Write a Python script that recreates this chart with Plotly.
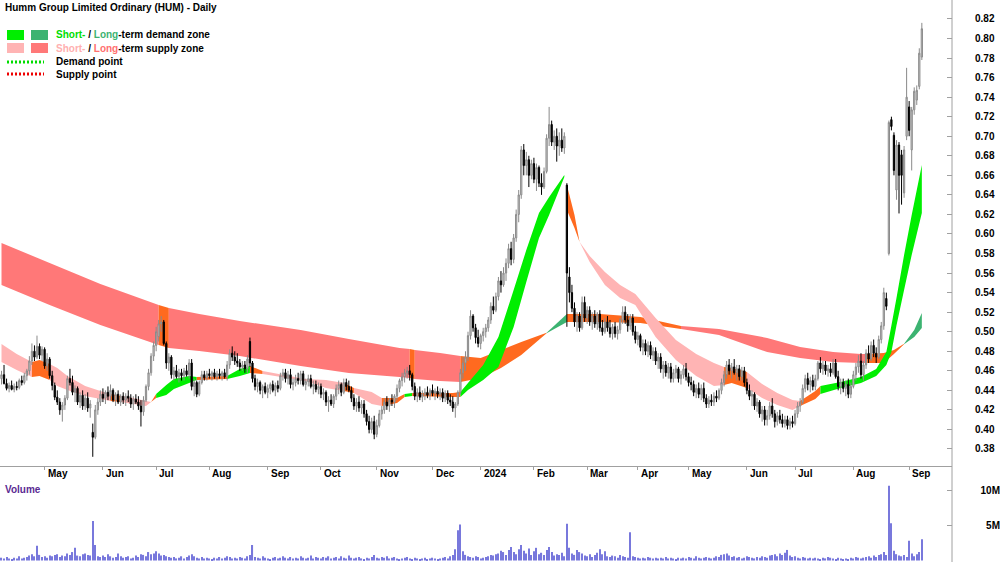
import plotly.graph_objects as go

TITLE = "Humm Group Limited Ordinary (HUM) - Daily"

# trading-day index of the first session of each month, and its label
MONTH_IDX = [17, 40, 61, 82, 105, 126, 148, 170, 189, 210, 231, 251, 271, 294, 313, 336, 358]
MONTH_TXT = ["May", "Jun", "Jul", "Aug", "Sep", "Oct", "Nov", "Dec", "2024",
             "Feb", "Mar", "Apr", "May", "Jun", "Jul", "Aug", "Sep"]

OPEN = [
 .452,.456,.447,.442,.445,.441,.444,.443,.450,.448,
 .455,.460,.470,.480,.474,.485,.476,.482,.465,.472,
 .455,.445,.433,.428,.420,.425,.432,.452,.448,.438,
 .442,.428,.435,.424,.432,.422,.397,.392,.420,.428,
 .436,.432,.438,.434,.440,.430,.436,.428,.434,.430,
 .434,.432,.426,.431,.428,.424,.418,.430,.444,.458,
 .475,.486,.495,.508,.510,.488,.468,.474,.456,.460,
 .454,.458,.455,.460,.456,.468,.444,.448,.436,.448,
 .456,.453,.457,.455,.458,.454,.457,.455,.458,.454,
 .466,.478,.474,.470,.468,.464,.466,.462,.490,.468,
 .452,.444,.448,.440,.444,.438,.442,.446,.440,.445,
 .442,.455,.458,.452,.456,.446,.448,.452,.450,.457,
 .446,.449,.452,.444,.446,.441,.444,.436,.438,.428,
 .430,.426,.434,.442,.446,.438,.448,.444,.440,.432,
 .424,.428,.422,.426,.416,.408,.400,.408,.395,.404,
 .416,.420,.428,.424,.430,.428,.434,.442,.450,.454,
 .458,.460,.456,.444,.434,.438,.433,.436,.438,.435,
 .440,.437,.439,.436,.438,.432,.437,.430,.428,.422,
 .426,.438,.458,.468,.474,.496,.516,.504,.494,.488,
 .496,.500,.504,.512,.526,.522,.536,.552,.548,.560,
 .570,.585,.574,.596,.620,.640,.686,.670,.676,.660,
 .672,.656,.668,.652,.648,.664,.698,.712,.694,.700,
 .690,.696,.688,.650,.556,.540,.524,.510,.516,.504,
 .530,.514,.522,.510,.516,.508,.518,.504,.500,.510,
 .504,.498,.505,.498,.502,.512,.520,.512,.506,.514,
 .500,.492,.496,.484,.488,.480,.486,.476,.480,.470,
 .474,.462,.466,.458,.464,.452,.458,.462,.452,.456,
 .462,.454,.448,.446,.438,.442,.436,.442,.432,.426,
 .430,.428,.434,.432,.440,.448,.456,.466,.460,.464,
 .458,.462,.454,.460,.448,.440,.434,.436,.424,.428,
 .416,.420,.410,.414,.424,.416,.408,.414,.410,.406,
 .410,.404,.408,.406,.416,.424,.428,.442,.452,.446,
 .450,.444,.452,.468,.462,.466,.460,.462,.458,.468,
 .454,.444,.448,.442,.446,.436,.444,.456,.464,.470,
 .456,.466,.478,.472,.486,.478,.474,.492,.506,.534,
 .580,.717,.701,.645,.691,.681,.642,.700,.730,.686,
 .727,.737,.751,.781]

HIGH = [
 .460,.466,.452,.448,.450,.447,.449,.452,.455,.458,
 .462,.475,.488,.486,.496,.488,.485,.484,.478,.474,
 .460,.448,.440,.432,.428,.435,.455,.462,.455,.445,
 .444,.438,.440,.436,.438,.430,.406,.425,.432,.440,
 .442,.440,.444,.446,.442,.438,.440,.436,.438,.437,
 .440,.436,.434,.436,.434,.430,.434,.446,.462,.478,
 .490,.505,.512,.516,.512,.490,.478,.476,.464,.466,
 .462,.462,.463,.466,.472,.472,.452,.450,.450,.460,
 .460,.460,.462,.460,.462,.460,.462,.460,.462,.470,
 .482,.485,.480,.478,.472,.470,.470,.476,.494,.470,
 .456,.452,.450,.446,.448,.446,.448,.450,.448,.450,
 .458,.462,.462,.460,.462,.452,.456,.458,.460,.460,
 .452,.456,.456,.450,.450,.448,.447,.442,.440,.434,
 .436,.436,.446,.450,.448,.452,.452,.450,.444,.436,
 .432,.434,.430,.430,.420,.414,.412,.414,.410,.420,
 .424,.432,.434,.432,.436,.436,.446,.452,.458,.462,
 .464,.466,.458,.448,.442,.444,.440,.442,.444,.442,
 .446,.442,.444,.442,.442,.440,.440,.436,.434,.428,
 .440,.462,.474,.480,.500,.522,.518,.508,.502,.498,
 .504,.508,.515,.530,.536,.540,.556,.562,.566,.575,
 .590,.592,.600,.625,.645,.690,.692,.684,.680,.676,
 .678,.672,.670,.662,.668,.702,.730,.716,.706,.708,
 .704,.708,.704,.652,.566,.548,.530,.520,.520,.536,
 .536,.526,.526,.520,.522,.520,.522,.512,.514,.516,
 .512,.508,.510,.506,.514,.526,.526,.518,.518,.518,
 .506,.500,.498,.492,.492,.490,.490,.484,.484,.478,
 .478,.470,.470,.468,.468,.462,.466,.464,.460,.466,
 .468,.458,.454,.450,.446,.448,.446,.448,.436,.434,
 .436,.438,.440,.442,.452,.460,.470,.472,.468,.472,
 .466,.466,.464,.464,.452,.446,.440,.438,.432,.430,
 .424,.424,.420,.428,.432,.420,.418,.420,.416,.414,
 .414,.412,.414,.420,.428,.432,.446,.456,.458,.454,
 .456,.456,.470,.474,.470,.470,.466,.468,.472,.472,
 .460,.452,.452,.450,.452,.448,.460,.468,.476,.478,
 .470,.482,.486,.490,.492,.484,.496,.510,.545,.540,
 .716,.720,.704,.696,.694,.686,.690,.770,.736,.730,
 .750,.752,.790,.816]

LOW = [
 .446,.446,.440,.438,.440,.438,.440,.441,.445,.446,
 .450,.456,.466,.470,.472,.472,.470,.462,.460,.452,
 .440,.430,.425,.415,.408,.420,.430,.445,.435,.428,
 .425,.422,.420,.420,.418,.412,.372,.390,.415,.424,
 .428,.426,.430,.430,.428,.424,.426,.424,.426,.424,
 .428,.422,.420,.426,.420,.403,.414,.428,.440,.455,
 .470,.480,.490,.500,.486,.462,.460,.452,.450,.452,
 .448,.450,.450,.454,.452,.440,.434,.433,.434,.446,
 .450,.450,.452,.450,.452,.450,.452,.450,.452,.450,
 .462,.470,.466,.464,.460,.460,.458,.458,.464,.448,
 .440,.438,.436,.432,.436,.432,.436,.438,.434,.438,
 .440,.450,.448,.446,.442,.440,.444,.446,.446,.444,
 .440,.444,.442,.436,.438,.436,.432,.430,.424,.418,
 .424,.422,.430,.436,.434,.436,.440,.438,.428,.420,
 .418,.418,.416,.412,.404,.396,.396,.390,.392,.402,
 .410,.416,.420,.418,.424,.422,.430,.438,.444,.448,
 .452,.450,.440,.430,.428,.430,.428,.430,.432,.430,
 .434,.430,.432,.430,.428,.428,.426,.424,.418,.412,
 .424,.436,.452,.460,.470,.492,.500,.488,.484,.482,
 .490,.494,.500,.508,.518,.520,.532,.540,.546,.552,
 .565,.568,.570,.592,.612,.636,.660,.660,.648,.656,
 .652,.644,.648,.640,.646,.662,.690,.690,.686,.674,
 .680,.684,.682,.505,.530,.520,.505,.500,.500,.502,
 .510,.508,.506,.502,.504,.502,.500,.496,.498,.500,
 .494,.492,.494,.492,.498,.508,.508,.500,.502,.496,
 .488,.486,.480,.476,.476,.474,.472,.470,.466,.462,
 .458,.452,.454,.452,.448,.448,.452,.448,.446,.452,
 .450,.444,.440,.434,.432,.432,.430,.428,.422,.422,
 .424,.424,.428,.430,.436,.444,.452,.456,.452,.456,
 .450,.450,.450,.444,.436,.430,.424,.420,.418,.412,
 .408,.404,.404,.410,.412,.402,.404,.406,.402,.402,
 .400,.400,.402,.404,.412,.418,.426,.438,.440,.438,
 .440,.440,.450,.458,.456,.456,.454,.454,.456,.452,
 .440,.436,.438,.434,.432,.432,.442,.450,.458,.452,
 .450,.462,.468,.470,.474,.468,.472,.488,.502,.522,
 .578,.706,.660,.635,.621,.630,.637,.696,.700,.665,
 .722,.732,.748,.778]

CLOSE = [
 .456,.447,.442,.445,.441,.444,.443,.450,.448,.455,
 .460,.470,.480,.474,.485,.476,.482,.465,.472,.455,
 .445,.433,.428,.420,.425,.432,.452,.448,.438,.442,
 .428,.435,.424,.432,.422,.426,.392,.420,.428,.436,
 .432,.438,.434,.440,.430,.436,.428,.434,.430,.434,
 .432,.426,.431,.428,.424,.418,.430,.444,.458,.475,
 .486,.500,.508,.510,.488,.468,.474,.456,.460,.454,
 .458,.455,.460,.456,.468,.444,.448,.436,.448,.456,
 .453,.457,.455,.458,.454,.457,.455,.458,.454,.466,
 .478,.474,.470,.468,.464,.466,.462,.472,.468,.452,
 .444,.448,.440,.444,.438,.442,.446,.440,.445,.442,
 .455,.458,.452,.456,.446,.448,.452,.450,.457,.446,
 .449,.452,.444,.446,.441,.444,.436,.438,.428,.430,
 .426,.434,.442,.446,.438,.448,.444,.440,.432,.424,
 .428,.422,.426,.416,.408,.400,.408,.395,.404,.416,
 .420,.428,.424,.430,.428,.434,.442,.450,.454,.458,
 .460,.456,.444,.434,.438,.433,.436,.438,.435,.440,
 .437,.439,.436,.438,.432,.437,.430,.428,.422,.426,
 .438,.458,.468,.474,.496,.516,.504,.494,.488,.496,
 .500,.504,.512,.526,.522,.536,.552,.548,.560,.570,
 .585,.574,.596,.620,.640,.686,.670,.676,.660,.672,
 .656,.668,.652,.648,.664,.698,.712,.694,.700,.690,
 .696,.688,.700,.560,.540,.524,.510,.516,.504,.530,
 .514,.522,.510,.516,.508,.518,.504,.500,.510,.504,
 .498,.505,.498,.502,.512,.520,.512,.506,.514,.500,
 .492,.496,.484,.488,.480,.486,.476,.480,.470,.474,
 .462,.466,.458,.464,.452,.458,.462,.452,.456,.462,
 .454,.448,.446,.438,.442,.436,.442,.432,.426,.430,
 .428,.434,.432,.440,.448,.456,.466,.460,.464,.458,
 .462,.454,.460,.448,.440,.434,.436,.424,.428,.416,
 .420,.410,.414,.424,.416,.408,.414,.410,.406,.410,
 .404,.408,.406,.416,.424,.428,.442,.452,.446,.450,
 .444,.452,.468,.462,.466,.460,.462,.458,.468,.454,
 .444,.448,.442,.446,.436,.444,.456,.464,.470,.456,
 .466,.478,.472,.486,.478,.474,.492,.506,.540,.526,
 .714,.710,.665,.691,.660,.660,.686,.740,.706,.727,
 .746,.747,.785,.810]

# daily volume, millions of shares
VOLUME_M = [
 .4,.3,.5,.3,.2,.4,.3,.6,.3,.4,.5,.7,.9,.6,2.1,.8,.5,.6,.4,.7,
 .6,.8,.9,.5,.7,.6,1.0,.8,1.2,1.8,.7,.6,.9,1.0,.8,.7,5.6,2.2,.6,.5,
 .7,.5,.9,.6,.4,.5,1.0,.6,.4,.5,.6,.3,.4,.7,.5,.9,.8,.6,1.2,.9,
 1.0,1.3,1.0,.7,.8,.6,.5,.4,.5,.3,.4,.6,.3,.5,.7,.9,.6,.4,.3,.5,
 .3,.4,.3,.2,.4,.3,.5,.3,.4,.6,.5,.3,.4,.3,.5,.4,.3,.6,.8,2.2,
 .5,.4,.3,.6,.4,.3,.2,.4,.5,.3,.4,.6,.4,.3,.5,.3,.4,.3,.6,.4,
 .3,.4,.7,.3,.5,.4,.3,.5,.4,.6,.3,.4,.5,.3,.6,.4,.3,.7,.4,.3,
 .4,.5,.3,.2,.4,.3,.5,.8,.4,.3,.5,.4,.6,.3,.4,.5,.3,.2,.3,.4,
 .5,.3,.2,.4,.3,.2,.3,.4,.2,.3,.4,.3,.2,.3,.4,.5,.3,.6,.8,1.6,
 4.3,5.1,1.3,.8,.6,.5,.4,.6,.5,.3,.4,.5,.6,.8,.7,.9,1.0,1.4,1.2,.8,
 1.5,1.9,1.2,.9,1.6,2.2,1.4,1.0,1.7,.8,1.3,1.8,.9,1.1,.8,1.5,1.9,1.2,.7,.9,
 .8,1.1,.6,5.2,1.8,1.0,.8,1.5,1.2,1.0,.7,.6,.9,.5,.8,1.1,1.6,.9,1.3,.6,
 .5,.7,.6,.4,.8,.6,.5,.4,4.0,.6,.5,.4,.3,.4,.3,.5,.4,.3,.4,.3,
 .4,.3,.5,.3,.4,.3,.2,.4,.3,.4,.3,.5,.4,.3,.6,.4,.3,.4,.5,.4,
 .3,.4,.6,.5,.8,.9,1.0,.7,.5,.6,.4,.5,.3,.4,.6,.5,.4,.3,.5,.4,
 .6,.5,.4,.7,.8,.9,.6,1.0,.8,1.1,1.5,.7,.5,.6,.4,.3,.5,.4,.3,.4,
 .3,.4,.3,.2,.4,.3,.5,.4,.3,.2,.4,.3,.2,.3,.2,.4,.3,.5,.4,.3,
 .4,.5,.6,.4,.7,.5,.8,.9,1.2,.8,10.6,5.3,1.4,.9,.7,.6,.8,.5,2.8,1.0,.6,.9,1.2,3.0]

# short-term zone ribbon (two edges) at selected sessions
SHORT_X = [0,6,12,15,19,22,26,33,39,43,47,52,57,59,61,65,68,74,77,89,
           94,98,103,120,128,135,139,146,150,156,159,162,178,181,184,190,196,202,207,212,
           216,222,223,226,228,232,238,244,250,258,266,274,281,285,288,294,300,306,312,315,
           321,323,331,339,345,349,351,353,356,359,363]
SHORT_TOP = [.4874,.4772,.4690,.4710,.4669,.4629,.4547,.4444,.4393,.4362,
             .4342,.4322,.4291,.4281,.4362,.4455,.4516,.4547,.4536,.4547,
             .4619,.4649,.4598,.4516,.4506,.4475,.4424,.4383,.4322,.4322,
             .4362,.4373,.4373,.4383,.4475,.4659,.4946,.5427,.5836,.6215,
             .6378,.6603,.6501,.6194,.5918,.5775,.5611,.5478,.5386,.5140,
             .4915,.4772,.4680,.4639,.4628,.4588,.4465,.4373,.4301,.4291,
             .4393,.4444,.4485,.4537,.4619,.4793,.5063,.5345,.5785,.6194,
             .6706]
SHORT_BOT = [.4690,.4608,.4536,.4547,.4506,.4444,.4403,.4342,.4312,.4291,
             .4281,.4260,.4240,.4281,.4322,.4352,.4414,.4475,.4506,.4516,
             .4547,.4577,.4567,.4496,.4424,.4393,.4373,.4260,.4240,.4270,
             .4332,.4342,.4332,.4332,.4403,.4506,.4639,.5048,.5509,.5959,
             .6194,.6583,.6245,.6061,.5918,.5713,.5478,.5345,.5273,.4946,
             .4710,.4547,.4444,.4455,.4475,.4424,.4322,.4250,.4199,.4240,
             .4311,.4362,.4424,.4475,.4547,.4659,.4793,.5063,.5427,.5785,
             .6215]
SHORT_SEG_START = [0, 12, 19, 43, 47, 59, 61, 77, 89, 98, 103, 135, 139, 150, 159, 162, 181, 223, 228, 285, 294, 315, 323]
SHORT_SEG_END   = [12, 19, 43, 47, 59, 61, 77, 89, 98, 103, 135, 139, 150, 159, 162, 181, 222, 228, 285, 294, 315, 323, 363]
SHORT_SEG_ZONE  = ["ss", "tr", "ss", "tr", "ss", "tr", "sd", "tr", "sd", "tr", "ss", "tr", "ss", "tr", "sd", "tr", "sd", "tr", "ss", "tr", "ss", "tr", "sd"]

# long-term zone ribbon
LONG_X = [0,19,39,62,66,78,94,118,137,157,161,163,173,181,189,197,205,215,223,236,
          252,268,283,302,315,328,339,341,348,352,356,360,363]
LONG_TOP = [.5908,.5703,.5488,.5273,.5243,.5181,.5110,.5017,.4925,.4833,
            .4823,.4813,.4782,.4751,.4731,.4813,.4895,.4990,.5181,.5181,
            .5150,.5058,.5027,.4936,.4843,.4792,.4772,.4772,.4782,.4813,
            .4876,.5017,.5191]
LONG_BOT = [.5478,.5273,.5068,.4864,.4834,.4803,.4751,.4649,.4577,.4536,
            .4526,.4516,.4496,.4485,.4526,.4628,.4762,.4985,.5099,.5099,
            .5089,.5027,.4966,.4792,.4731,.4690,.4680,.4680,.4680,.4772,
            .4872,.4946,.5038]
LONG_SEG_START = [0, 62, 66, 161, 163, 181, 215, 223, 268, 341, 356]
LONG_SEG_END   = [62, 66, 161, 163, 181, 215, 223, 268, 341, 356, 363]
LONG_SEG_ZONE  = ["ls", "tr", "ls", "tr", "ls", "tr", "ld", "tr", "ls", "tr", "ld"]

PRICE_TICKS = [0.38, 0.40, 0.42, 0.44, 0.46, 0.48, 0.50, 0.52, 0.54, 0.56, 0.58, 0.60,
               0.62, 0.64, 0.66, 0.68, 0.70, 0.72, 0.74, 0.76, 0.78, 0.80, 0.82]
VOL_TICKS = [0, 5, 10]
VOL_TEXT = ["0", "5M", "10M"]

# ---------------- styling ----------------
ZONE_COLOR = {"sd": "#00ee00", "ld": "#3cb371", "ss": "#ffb4b4", "ls": "#ff7878", "tr": "#ff6a1f"}
FONT = "Arial, Liberation Sans, sans-serif"
W, H = 1000, 562
def px(x):
    return x / W
def py(y):
    return 1 - y / H

X_RANGE = [-0.59, 374.9]
PRICE_RANGE = [0.3629, 0.8394]
VOL_RANGE = [-0.21, 11.42]
AX_X = 0.952

idx = list(range(len(CLOSE)))

fig = go.Figure()
fig.add_trace(go.Candlestick(
    x=idx, open=OPEN, high=HIGH, low=LOW, close=CLOSE,
    increasing=dict(line=dict(color="#8a8a8a", width=1), fillcolor="#d4d4d4"),
    decreasing=dict(line=dict(color="#000000", width=1), fillcolor="#000000"),
    whiskerwidth=0, showlegend=False, hoverinfo="skip", xaxis="x", yaxis="y"))
fig.add_trace(go.Bar(
    x=list(range(len(VOLUME_M))), y=VOLUME_M, width=0.45,
    marker=dict(color="#7878dc", line=dict(width=0)),
    showlegend=False, hoverinfo="skip", xaxis="x2", yaxis="y2"))
fig.add_trace(go.Scatter(x=[0], y=[0], mode="markers", marker=dict(opacity=0),
                         showlegend=False, hoverinfo="skip", xaxis="x2", yaxis="y3"))

shapes = []
def add_band(xs, tops, bots, starts, ends, zones):
    for s, e, z in zip(starts, ends, zones):
        pts = [(x, t, b) for x, t, b in zip(xs, tops, bots) if s <= x <= e]
        up = " L ".join(f"{x},{t}" for x, t, _ in pts)
        dn = " L ".join(f"{x},{b}" for x, _, b in reversed(pts))
        shapes.append(dict(type="path", path=f"M {up} L {dn} Z", xref="x", yref="y",
                           fillcolor=ZONE_COLOR[z], line=dict(width=0), layer="below"))

add_band(LONG_X, LONG_TOP, LONG_BOT, LONG_SEG_START, LONG_SEG_END, LONG_SEG_ZONE)
add_band(SHORT_X, SHORT_TOP, SHORT_BOT, SHORT_SEG_START, SHORT_SEG_END, SHORT_SEG_ZONE)

# right axis line through the whole height
shapes.append(dict(type="line", xref="paper", yref="paper", x0=AX_X, x1=AX_X, y0=0, y1=1,
                   line=dict(color="#a0a0a0", width=1)))

# legend swatches
for (x0, x1, y0, y1, c) in [(7, 24, 30, 40, ZONE_COLOR["sd"]), (31, 48, 30, 40, ZONE_COLOR["ld"]),
                            (7, 24, 43, 53, ZONE_COLOR["ss"]), (31, 48, 43, 53, ZONE_COLOR["ls"])]:
    shapes.append(dict(type="rect", xref="paper", yref="paper", x0=px(x0), x1=px(x1),
                       y0=py(y1), y1=py(y0), fillcolor=c, line=dict(width=0)))
for (yy, c) in [(62, "#00dd00"), (74, "#ee0000")]:
    shapes.append(dict(type="line", xref="paper", yref="paper", x0=px(7), x1=px(44),
                       y0=py(yy), y1=py(yy), line=dict(color=c, width=3, dash="2px,2px")))

ann = []
ann.append(dict(text=f"<b>{TITLE}</b>", x=px(3), y=py(7), xref="paper", yref="paper",
                xanchor="left", yanchor="middle", showarrow=False,
                font=dict(family=FONT, size=10, color="#000000")))
leg = [
    (35, f"<b><span style='color:#00dd00'>Short-</span> / <span style='color:#3cb371'>Long</span>-term demand zone</b>"),
    (48.5, f"<b><span style='color:#ffb0b0'>Short-</span> / <span style='color:#ff7070'>Long</span>-term supply zone</b>"),
    (62, "<b>Demand point</b>"),
    (74.5, "<b>Supply point</b>"),
]
for yy, t in leg:
    ann.append(dict(text=t, x=px(54), y=py(yy), xref="paper", yref="paper",
                    xanchor="left", yanchor="middle", showarrow=False,
                    font=dict(family=FONT, size=10, color="#000000")))
ann.append(dict(text="<b>Volume</b>", x=px(3), y=py(489), xref="paper", yref="paper",
                xanchor="left", yanchor="middle", showarrow=False,
                font=dict(family=FONT, size=10, color="#5a2a92")))
for i, t in zip(MONTH_IDX, MONTH_TXT):
    ann.append(dict(text=f"<b>{t}</b>", x=i, y=py(474), xref="x", yref="paper",
                    xanchor="left", yanchor="middle", xshift=1, showarrow=False,
                    font=dict(family=FONT, size=10, color="#000000")))

fig.update_layout(
    width=W, height=H, margin=dict(l=0, r=0, t=0, b=0),
    paper_bgcolor="#ffffff", plot_bgcolor="#ffffff",
    showlegend=False, shapes=shapes, annotations=ann,
    xaxis=dict(domain=[0, AX_X], range=X_RANGE, anchor="y", showgrid=False, zeroline=False,
               showline=True, linecolor="#a0a0a0", linewidth=1,
               ticks="outside", tickvals=MONTH_IDX, ticklen=3, tickcolor="#a0a0a0",
               showticklabels=False, rangeslider=dict(visible=False), fixedrange=True),
    yaxis=dict(domain=[py(465.7), 1], range=PRICE_RANGE, side="right", anchor="x",
               showgrid=False, zeroline=False, showline=False,
               ticks="inside", ticklen=5, tickcolor="#a0a0a0",
               tickvals=PRICE_TICKS, ticktext=[f"{v:.2f}" for v in PRICE_TICKS],
               tickfont=dict(family=FONT, size=10, color="#000000", weight="bold"),
               ticklabelstandoff=22),
    xaxis2=dict(domain=[0, AX_X], range=X_RANGE, anchor="y2", showgrid=False, zeroline=False,
                showline=False, showticklabels=False, ticks=""),
    yaxis2=dict(domain=[0, py(480)], range=VOL_RANGE, side="right", anchor="x2",
                showgrid=False, zeroline=False, showline=False,
                ticks="inside", ticklen=5, tickcolor="#a0a0a0", tickvals=[5, 10],
                showticklabels=False),
    yaxis3=dict(overlaying="y2", range=VOL_RANGE, side="left", anchor="free", position=1.0,
                showgrid=False, zeroline=False, showline=False, ticks="",
                tickvals=VOL_TICKS, ticktext=VOL_TEXT,
                tickfont=dict(family=FONT, size=10, color="#000000", weight="bold")),
)

fig.write_html("out.html")
